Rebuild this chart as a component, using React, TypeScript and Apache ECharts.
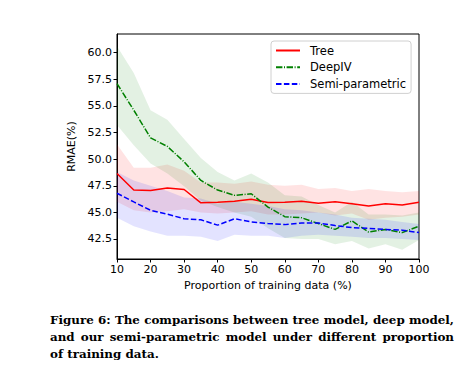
import React, { useEffect, useRef } from "react";
import * as echarts from "echarts";

const categories = ["10","15","20","25","30","35","40","45","50","55","60","65","70","75","80","85","90","95","100"];
const tickLabels = [42.5, 45.0, 47.5, 50.0, 52.5, 55.0, 57.5, 60.0];

const tree = [48.65,47.1,47.05,47.3,47.15,45.9,45.95,46.05,46.24,45.93,45.95,46.05,45.85,46.0,45.8,45.6,45.8,45.7,45.95];
const treeLow = [46.0,45.2,45.0,45.1,45.3,45.0,44.9,45.0,45.1,44.8,44.8,44.9,45.0,44.7,44.9,44.3,44.5,44.6,44.8];
const treeHigh = [51.4,49.2,49.2,49.5,48.9,47.8,47.8,47.7,47.9,47.6,47.5,47.6,47.2,47.3,47.0,47.2,47.0,46.9,47.0];

const deepiv = [57.1,54.6,52.0,51.2,49.75,48.0,47.1,46.6,46.75,45.5,44.6,44.5,43.95,43.4,44.2,43.15,43.4,43.1,43.7];
const deepivLow = [53.2,51.3,49.6,48.65,47.45,46.1,45.5,45.0,44.6,43.5,42.6,42.5,42.5,42.0,42.3,41.6,42.0,41.5,42.4];
const deepivHigh = [60.6,58.1,54.6,53.7,51.9,50.1,48.8,48.0,48.65,47.8,46.6,46.5,45.7,45.0,46.0,44.8,44.8,44.7,45.0];

const semi = [46.8,45.98,45.2,44.83,44.4,44.3,43.8,44.4,44.1,43.95,43.85,44.0,44.0,43.76,43.57,43.5,43.4,43.33,43.1];
const semiLow = [44.5,43.7,43.2,42.8,42.8,42.7,42.3,42.9,42.8,42.8,42.6,42.8,42.9,42.8,42.7,42.6,42.6,42.5,42.4];
const semiHigh = [48.8,48.0,47.5,47.0,46.4,46.3,45.8,46.0,45.8,45.6,45.3,45.2,45.0,44.8,44.5,44.4,44.3,44.1,43.9];

const captionLines = [
  "Figure 6: The comparisons between tree model, deep model,",
  "and our semi-parametric model under different proportion",
  "of training data.",
];

const FONT = "DejaVu Sans";
const FS = 11;

function band(name: string, low: number[], high: number[], color: string): any[] {
  return [
    {
      name: name + "-low",
      type: "line",
      data: low,
      stack: name,
      symbol: "none",
      lineStyle: { opacity: 0 },
      silent: true,
      z: 1,
    },
    {
      name: name + "-band",
      type: "line",
      data: high.map((h, i) => +(h - low[i]).toFixed(3)),
      stack: name,
      symbol: "none",
      lineStyle: { opacity: 0 },
      areaStyle: { color, opacity: 1 },
      silent: true,
      z: 1,
    },
  ];
}

export default function App() {
  const ref = useRef<HTMLDivElement>(null);
  useEffect(() => {
    if (!ref.current) return;
    const chart = echarts.init(ref.current, undefined, { renderer: "svg" });
    chart.setOption({
      animation: false,
      textStyle: { fontFamily: FONT },
      grid: {
        left: 117,
        right: 55,
        top: 34,
        height: 225,
        show: true,
        borderColor: "#000",
        borderWidth: 1,
        backgroundColor: "transparent",
      },
      legend: {
        data: ["Tree", "DeepIV", "Semi-parametric"],
        orient: "vertical",
        left: 271,
        top: 41,
        padding: [3.5, 5, 3.5, 4],
        itemGap: 4.7,
        itemWidth: 24,
        itemHeight: 12,
        borderColor: "#d0d0d0",
        borderWidth: 1,
        borderRadius: 3,
        backgroundColor: "rgba(255,255,255,0.8)",
        itemStyle: { opacity: 0 },
        textStyle: { fontFamily: FONT, fontSize: 11.5, color: "#000", padding: [0, 0, 0, 5] },
      },
      xAxis: {
        type: "category",
        data: categories,
        boundaryGap: false,
        name: "Proportion of training data (%)",
        nameLocation: "middle",
        nameGap: 20,
        nameTextStyle: { fontFamily: FONT, fontSize: FS, color: "#000" },
        axisLine: { lineStyle: { color: "#000", width: 1 } },
        axisTick: { interval: 1, length: 3.5, lineStyle: { color: "#000" } },
        axisLabel: { interval: 1, fontFamily: FONT, fontSize: FS, color: "#000", margin: 5 },
        splitLine: { show: false },
      },
      yAxis: {
        type: "value",
        min: 40.62,
        max: 61.76,
        name: "RMAE(%)",
        nameLocation: "middle",
        nameGap: 34,
        nameRotate: 90,
        nameTextStyle: { fontFamily: FONT, fontSize: FS, color: "#000" },
        axisLine: { show: true, lineStyle: { color: "#000", width: 1 } },
        axisTick: { show: true, length: 3.5, customValues: tickLabels, lineStyle: { color: "#000" } },
        axisLabel: {
          customValues: tickLabels,
          fontFamily: FONT,
          fontSize: FS,
          color: "#000",
          margin: 5,
          formatter: (v: number) => v.toFixed(1),
        },
        splitLine: { show: false },
      },
      series: [
        ...band("tree", treeLow, treeHigh, "rgba(255,0,0,0.11)"),
        ...band("deepiv", deepivLow, deepivHigh, "rgba(0,128,0,0.11)"),
        ...band("semi", semiLow, semiHigh, "rgba(0,0,255,0.11)"),
        {
          name: "Tree",
          type: "line",
          data: tree,
          symbol: "none",
          color: "#ff0000",
          lineStyle: { color: "#ff0000", width: 1.5 },
          z: 5,
        },
        {
          name: "DeepIV",
          type: "line",
          data: deepiv,
          symbol: "none",
          color: "#008000",
          lineStyle: { color: "#008000", width: 1.5, type: [6.4, 1.6, 1, 1.6] },
          z: 5,
        },
        {
          name: "Semi-parametric",
          type: "line",
          data: semi,
          symbol: "none",
          color: "#0000ff",
          lineStyle: { color: "#0000ff", width: 1.5, type: [5.5, 2.4] },
          z: 5,
        },
      ],
    });
    return () => chart.dispose();
  }, []);

  return (
    <div style={{ position: "absolute", left: 0, top: 0, width: 474, height: 380, background: "#fff" }}>
      <div ref={ref} style={{ position: "absolute", left: 0, top: 0, width: 474, height: 380 }} />
      <div
        style={{
          position: "absolute",
          left: 50,
          top: 312,
          width: 404,
          fontFamily: "'DejaVu Serif', serif",
          fontWeight: "bold",
          fontSize: 11.9,
          lineHeight: "17px",
          color: "#000",
        }}
      >
        {captionLines.map((line, i) => (
          <div
            key={i}
            style={{
              textAlign: i < captionLines.length - 1 ? "justify" : "left",
              textAlignLast: i < captionLines.length - 1 ? "justify" : "left",
              whiteSpace: "nowrap",
            }}
          >
            {line}
          </div>
        ))}
      </div>
    </div>
  );
}
